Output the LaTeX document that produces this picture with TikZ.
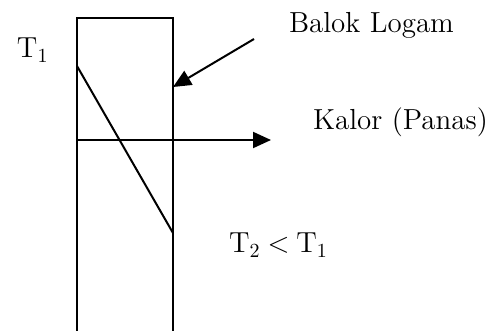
\documentclass[tikz,border=0pt]{standalone}
\usetikzlibrary{arrows.meta}
\begin{document}
\begin{tikzpicture}[x=0.5pt,y=-0.5pt,line width=1pt,
  every node/.style={font=\fontsize{14.5}{17}\selectfont,inner sep=0pt,anchor=base west},
  tip/.style={-{Triangle[length=9pt,width=8pt]}}]
\useasboundingbox (0,0) rectangle (488,331);
% metal bar, open at the bottom
\draw (77,331) -- (77,18) -- (173,18) -- (173,331);
\coordinate (hot) at (77,66);
\coordinate (cold) at (173,233);
\draw (hot) -- (cold);
\node (tone) at (16,58) {T$_1$};
\node (ttwo) at (228,253) {T$_2$\kern3.5pt$<$\kern3.5pt T$_1$};
\node (bar) at (288,33) {Balok Logam};
\node (heat) at (312,130) {Kalor (Panas)};
% arrow to the bar
\coordinate (barfrom) at (254,39);
\coordinate (barto) at (173,87);
\draw[tip] (barfrom) -- (barto);
% heat flow
\coordinate (heatin) at (77,140);
\coordinate (heatout) at (271,140);
\draw[tip] (heatin) -- (heatout);
\end{tikzpicture}
\end{document}
